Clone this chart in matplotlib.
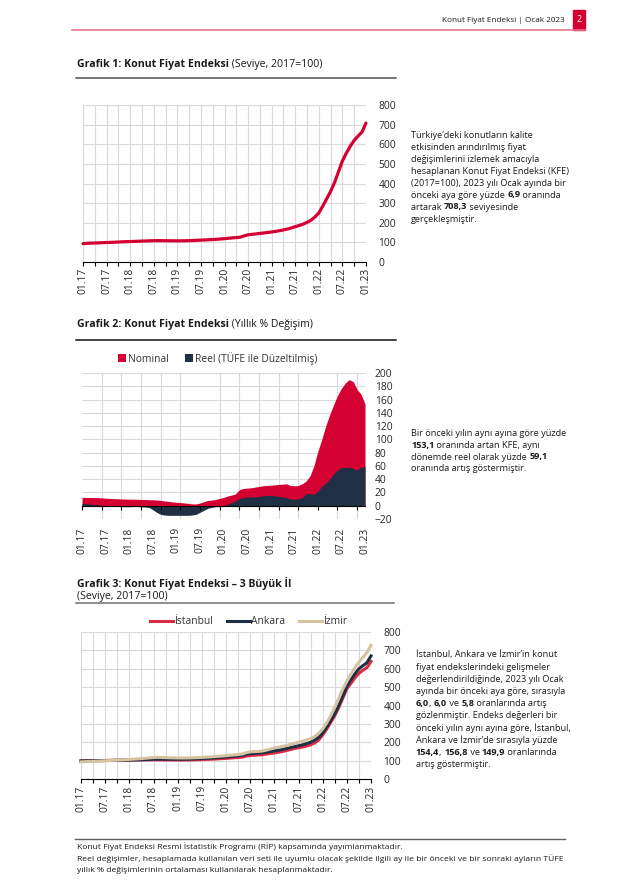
import numpy as np
import matplotlib
matplotlib.use('Agg')
import matplotlib.pyplot as plt

plt.rcParams['font.family'] = ['Open Sans', 'DejaVu Sans']

# monthly data, 01.2017 - 01.2023
tick_labels = ['01.17', '07.17', '01.18', '07.18', '01.19', '07.19', '01.20',
               '07.20', '01.21', '07.21', '01.22', '07.22', '01.23']

kfe = [93.5, 95.3, 96.1, 96.9, 97.6, 98.4, 99.2, 100.0, 100.8, 101.8, 102.8, 103.6,
       104.3, 105.0, 105.8, 106.5, 107.2, 108.0, 108.5, 108.8, 108.7, 108.5, 108.2, 108.0,
       107.8, 107.9, 108.3, 108.9, 109.6, 110.5, 111.5, 112.5, 113.5, 114.6, 115.8, 117.2,
       119.0, 121.0, 122.8, 124.3, 126.5, 133.0, 138.5, 141.0, 143.0, 145.5, 148.0, 150.5,
       153.0, 156.0, 159.5, 163.5, 168.0, 173.5, 180.0, 186.0, 193.0, 202.0, 213.0, 229.0,
       250.0, 285.0, 322.0, 360.0, 405.0, 460.0, 515.0, 555.0, 590.0, 620.0, 642.0, 662.6,
       708.3]

nominal = [12.5, 12.5, 12.4, 12.3, 12.2, 11.8, 11.4, 11.0, 10.7, 10.5, 10.2, 10.0,
           9.9, 9.8, 9.7, 9.5, 9.3, 9.1, 9.0, 8.6, 8.0, 7.2, 6.5, 5.8,
           5.2, 4.8, 4.2, 3.5, 2.8, 2.6, 4.0, 6.0, 8.0, 8.5, 9.5, 11.0,
           12.5, 14.5, 16.0, 17.5, 24.0, 26.0, 26.5, 27.0, 28.0, 29.0, 30.0, 30.5,
           31.0, 31.5, 32.0, 32.5, 33.0, 30.5, 30.0, 30.5, 33.0, 37.0, 45.0, 60.0,
           82.0, 100.0, 120.0, 137.0, 152.0, 166.0, 177.0, 185.0, 190.0, 187.0, 175.0, 168.0,
           153.1]

real = [3.5, 3.0, 2.5, 2.0, 1.5, 0.5, 0.0, -0.5, -0.8, -1.0, -1.2, -1.5,
        -1.5, -1.3, -1.2, -1.5, -2.0, -2.5, -6.0, -10.0, -13.0, -14.0, -14.5, -14.5,
        -14.5, -14.5, -14.5, -14.5, -14.0, -13.0, -10.0, -7.0, -4.0, -2.5, -1.5, -1.0,
        0.0, 2.0, 4.5, 7.0, 11.0, 12.5, 13.0, 13.0, 13.5, 14.0, 15.0, 15.5,
        15.5, 15.0, 14.0, 13.5, 12.0, 10.0, 10.0, 10.5, 12.0, 18.0, 18.5, 17.0,
        22.0, 29.0, 34.0, 40.0, 48.0, 54.0, 57.0, 58.0, 58.0, 56.0, 54.0, 58.0,
        59.1]

istanbul = [98.5, 99.0, 99.4, 99.8, 100.1, 100.5, 100.8, 101.2, 101.6, 102.0, 102.4, 102.8,
            103.1, 103.4, 103.7, 104.0, 104.2, 104.4, 104.5, 104.5, 104.3, 104.0, 103.7, 103.5,
            103.3, 103.3, 103.5, 103.9, 104.4, 105.0, 105.7, 106.5, 107.4, 108.4, 109.5, 110.8,
            112.5, 114.0, 115.5, 117.0, 119.0, 124.0, 128.0, 129.5, 131.0, 132.0, 135.5, 139.0,
            142.0, 145.5, 149.5, 155.0, 160.0, 166.0, 170.0, 174.0, 179.0, 186.0, 196.0, 212.0,
            240.0, 272.0, 308.0, 345.0, 390.0, 440.0, 491.0, 520.0, 550.0, 575.0, 592.0, 606.0,
            640.0]

ankara = [98.0, 98.6, 99.2, 99.6, 100.0, 100.3, 100.6, 100.9, 101.2, 101.6, 102.0, 102.5,
          103.0, 103.6, 104.3, 105.0, 105.8, 106.5, 107.2, 107.7, 108.0, 108.0, 107.8, 107.6,
          107.5, 107.6, 108.0, 108.6, 109.4, 110.3, 111.3, 112.4, 113.6, 114.9, 116.3, 118.0,
          120.0, 122.0, 124.0, 126.0, 128.5, 134.0, 138.0, 139.5, 141.0, 142.5, 146.0, 150.0,
          153.0, 156.5, 161.0, 166.0, 171.0, 176.0, 181.0, 186.0, 192.0, 200.0, 211.0, 227.0,
          250.0, 282.0, 318.0, 355.0, 400.0, 452.0, 503.0, 540.0, 572.0, 600.0, 617.0, 633.0,
          670.0]

izmir = [93.5, 94.5, 95.5, 96.5, 97.5, 98.5, 99.5, 100.5, 101.5, 102.5, 103.7, 105.0,
         106.5, 108.0, 109.5, 111.0, 113.0, 115.0, 117.0, 118.0, 117.5, 116.5, 115.5, 115.0,
         114.5, 114.3, 114.5, 115.0, 115.8, 116.7, 117.7, 118.9, 120.2, 121.7, 123.3, 125.0,
         127.0, 129.0, 131.0, 133.0, 136.0, 143.0, 148.0, 149.0, 150.0, 152.0, 157.0, 163.0,
         169.0, 173.0, 177.0, 182.0, 188.0, 194.0, 200.0, 206.0, 212.0, 220.0, 232.0, 248.0,
         272.0, 305.0, 345.0, 390.0, 440.0, 490.0, 532.0, 570.0, 605.0, 636.0, 662.0, 688.0,
         728.0]

months = np.arange(len(kfe))

RED = '#D50032'
NAVY = '#1F3044'
TAN = '#D6C3A1'
IST = '#DA2A45'
GRID = '#D9D9D9'
TXT = '#1A1A1A'

W, H = 641, 889
fig = plt.figure(figsize=(W / 100, H / 100), dpi=100)
renderer = fig.canvas.get_renderer()


def px_axes(x0, y0, x1, y1):
    return fig.add_axes([x0 / W, 1 - y1 / H, (x1 - x0) / W, (y1 - y0) / H])


def hline(x0, x1, y, color, lw):
    fig.add_artist(plt.Line2D([x0 / W, x1 / W], [1 - y / H, 1 - y / H],
                              color=color, lw=lw, transform=fig.transFigure))


def rich(x, y, parts, size, color=TXT):
    # parts: list of (text, bold) drawn one after another on one line
    cx = x
    for s, b in parts:
        t = fig.text(cx / W, 1 - y / H, s, fontsize=size, color=color,
                     fontweight='bold' if b else 'normal', ha='left', va='center')
        cx += t.get_window_extent(renderer=renderer).width


def paragraph(x, y0, step, lines, size):
    for i, parts in enumerate(lines):
        if isinstance(parts, str):
            parts = [(parts, False)]
        rich(x, y0 + i * step, parts, size)


def style_axis(ax, xgrid_step):
    ax.set_xlim(0, 72)
    ax.set_xticks(range(0, 73, 6))
    ax.set_xticklabels(tick_labels, rotation=90)
    ax.set_xticks(range(0, 73, xgrid_step), minor=True)
    ax.yaxis.tick_right()
    for s in ['top', 'right', 'left']:
        ax.spines[s].set_visible(False)
    ax.tick_params(axis='y', length=0, labelsize=7.4, colors='#262626')
    ax.tick_params(axis='x', labelsize=7.4, colors='#262626')
    ax.set_axisbelow(True)


# ---------------- header ----------------
hline(72, 585, 29.5, '#E8788C', 1.2)
fig.text(565 / W, 1 - 20 / H, 'Konut Fiyat Endeksi | Ocak 2023', fontsize=5.9,
         color=TXT, ha='right', va='center')
fig.patches.append(plt.Rectangle((573 / W, 1 - 30 / H), 12 / W, 20 / H,
                                 color=RED, transform=fig.transFigure))
fig.text(579 / W, 1 - 20 / H, '2', fontsize=6.5, color='white', ha='center', va='center')

# ---------------- chart 1 ----------------
rich(77, 64, [('Grafik 1: Konut Fiyat Endeksi', True), (' (Seviye, 2017=100)', False)], 7.6)
hline(76, 396, 77.5, '#505050', 1.1)

ax1 = px_axes(83, 105, 366, 262)
ax1.plot(months, kfe, color=RED, lw=2.3, solid_capstyle='round', clip_on=False, zorder=3)
ax1.set_ylim(0, 800)
ax1.set_yticks(range(0, 801, 100))
style_axis(ax1, 3)
ax1.grid(True, which='both', axis='x', color=GRID, lw=0.8)
ax1.grid(True, which='major', axis='y', color=GRID, lw=0.8)
ax1.spines['bottom'].set_color('black')
ax1.spines['bottom'].set_linewidth(0.8)
ax1.tick_params(axis='x', which='both', length=3, width=0.8, color='black', pad=1.5)
ax1.tick_params(axis='y', pad=9)

paragraph(411, 135, 12.0, [
    'Türkiye’deki konutların kalite',
    'etkisinden arındırılmış fiyat',
    'değişimlerini izlemek amacıyla',
    'hesaplanan Konut Fiyat Endeksi (KFE)',
    '(2017=100), 2023 yılı Ocak ayında bir',
    [('önceki aya göre yüzde ', False), ('6,9', True), (' oranında', False)],
    [('artarak ', False), ('708,3', True), (' seviyesinde', False)],
    'gerçekleşmiştir.',
], 6.6)

# ---------------- chart 2 ----------------
rich(77, 325, [('Grafik 2: Konut Fiyat Endeksi', True), (' (Yıllık % Değişim)', False)], 7.6)
hline(76, 396, 339.5, '#111111', 1.1)

ax2 = px_axes(82, 373, 365, 519)
ax2.fill_between(months, nominal, color=RED, lw=0, label='Nominal', zorder=2)
ax2.fill_between(months, real, color=NAVY, lw=0, label='Reel (TÜFE ile Düzeltilmiş)', zorder=3)
ax2.set_ylim(-20, 200)
ax2.set_yticks(range(-20, 201, 20))
style_axis(ax2, 5)
ax2.grid(True, which='minor', axis='x', color=GRID, lw=0.8)
ax2.grid(True, which='major', axis='y', color=GRID, lw=0.8)
ax2.spines['bottom'].set_visible(False)
ax2.tick_params(axis='x', which='both', length=0, pad=6)
ax2.tick_params(axis='y', pad=7)
zero = ax2.secondary_xaxis(20 / 220)
zero.set_xticks(range(0, 73, 5))
zero.tick_params(length=3, width=0.8, color='black', labelbottom=False)
zero.spines['bottom'].set_color('black')
zero.spines['bottom'].set_linewidth(0.8)
zero.set_zorder(4)
ax2.legend(loc='center', bbox_to_anchor=(0.48, 1.1), ncol=2, frameon=False,
           fontsize=7.4, handlelength=0.75, handleheight=0.75, handletextpad=0.2,
           columnspacing=1.6, borderpad=0, labelcolor='#333333')

paragraph(411, 434, 11.5, [
    'Bir önceki yılın aynı ayına göre yüzde',
    [('153,1', True), (' oranında artan KFE, aynı', False)],
    [('dönemde reel olarak yüzde ', False), ('59,1', True)],
    'oranında artış göstermiştir.',
], 6.6)

# ---------------- chart 3 ----------------
rich(77, 583, [('Grafik 3: Konut Fiyat Endeksi – 3 Büyük İl', True)], 7.6)
rich(77, 596, [('(Seviye, 2017=100)', False)], 7.6)
hline(76, 394, 602.5, '#707070', 1.1)

ax3 = px_axes(81, 632, 371, 779)
ax3.plot(months, istanbul, color=IST, lw=2.2, label='İstanbul', clip_on=False, zorder=3)
ax3.plot(months, ankara, color=NAVY, lw=2.2, label='Ankara', clip_on=False, zorder=3)
ax3.plot(months, izmir, color=TAN, lw=2.2, label='İzmir', clip_on=False, zorder=3)
ax3.set_ylim(0, 800)
ax3.set_yticks(range(0, 801, 100))
style_axis(ax3, 3)
ax3.grid(True, which='both', axis='x', color=GRID, lw=0.8)
ax3.grid(True, which='major', axis='y', color=GRID, lw=0.8)
ax3.spines['bottom'].set_color('black')
ax3.spines['bottom'].set_linewidth(0.8)
ax3.tick_params(axis='x', which='both', length=3, width=0.8, color='black', pad=1.5)
ax3.tick_params(axis='y', pad=9)
ax3.legend(loc='center', bbox_to_anchor=(0.578, 1.07), ncol=3, frameon=False,
           fontsize=7.4, handlelength=2.2, handletextpad=0.1, columnspacing=1.4,
           borderpad=0, labelcolor='#333333')

paragraph(416, 655, 12.2, [
    'İstanbul, Ankara ve İzmir’in konut',
    'fiyat endekslerindeki gelişmeler',
    'değerlendirildiğinde, 2023 yılı Ocak',
    'ayında bir önceki aya göre, sırasıyla',
    [('6,0', True), (', ', False), ('6,0', True), (' ve ', False), ('5,8', True),
     (' oranlarında artış', False)],
    'gözlenmiştir. Endeks değerleri bir',
    'önceki yılın aynı ayına göre, İstanbul,',
    'Ankara ve İzmir’de sırasıyla yüzde',
    [('154,4', True), (', ', False), ('156,8', True), (' ve ', False), ('149,9', True),
     (' oranlarında', False)],
    'artış göstermiştir.',
], 6.6)

# ---------------- footer ----------------
hline(75, 565, 838.5, '#606060', 1.0)
paragraph(77, 847, 11.5, [
    'Konut Fiyat Endeksi Resmi İstatistik Programı (RİP) kapsamında yayımlanmaktadır.',
    'Reel değişimler, hesaplamada kullanılan veri seti ile uyumlu olacak şekilde ilgili ay ile bir önceki ve bir sonraki ayların TÜFE',
    'yıllık % değişimlerinin ortalaması kullanılarak hesaplanmaktadır.',
], 6.1)

fig.savefig('out.png', dpi=100)
